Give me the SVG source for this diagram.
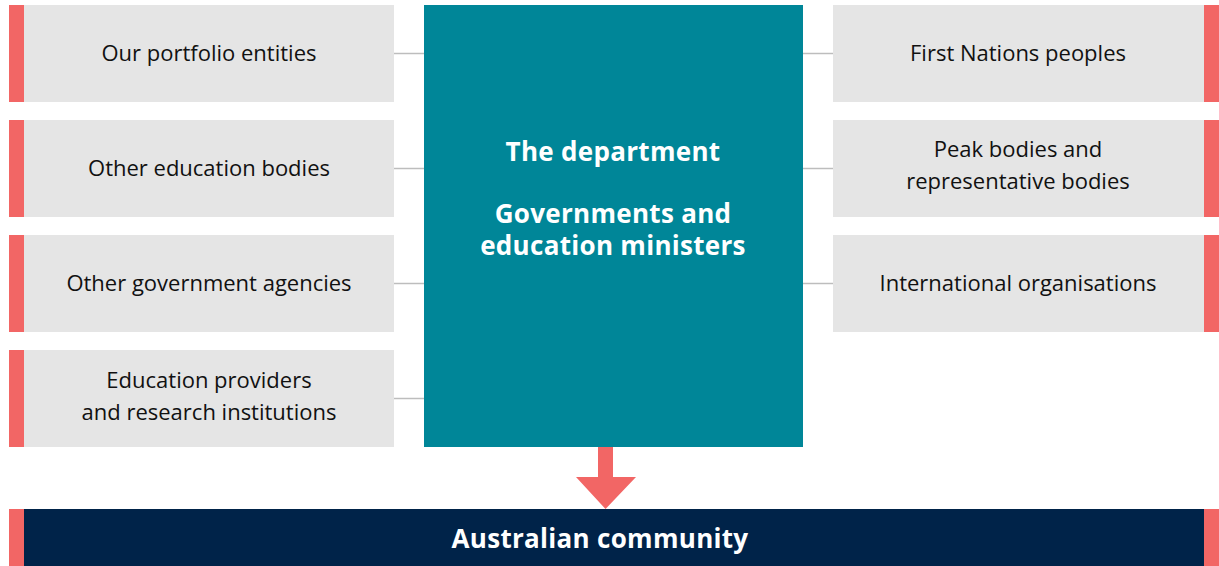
<svg xmlns="http://www.w3.org/2000/svg" width="1219" height="566" viewBox="0 0 1219 566">
<style>
.box{fill:#e5e5e5}
.bar{fill:#f26665}
.lbl{font-family:"Open Sans","Liberation Sans",sans-serif;font-size:22px;fill:#111;text-anchor:middle}
.hd{font-family:"Open Sans","Liberation Sans",sans-serif;font-weight:bold;font-size:26px;fill:#fff;text-anchor:middle;letter-spacing:0.3px}
.con{stroke:#bdbdbd;stroke-width:1.5;fill:none}
</style>
<rect width="1219" height="566" fill="#fff"/>
<g id="connectors">
<line class="con" x1="394" y1="53.5" x2="424" y2="53.5"/>
<line class="con" x1="394" y1="168.5" x2="424" y2="168.5"/>
<line class="con" x1="394" y1="283.5" x2="424" y2="283.5"/>
<line class="con" x1="394" y1="398.5" x2="424" y2="398.5"/>
<line class="con" x1="803" y1="53.5" x2="833" y2="53.5"/>
<line class="con" x1="803" y1="168.5" x2="833" y2="168.5"/>
<line class="con" x1="803" y1="283.5" x2="833" y2="283.5"/>
<polygon fill="#f26665" points="598,447 613,447 613,477 636,477 605.5,509 576,477 598,477"/>
</g>
<g id="portfolio"><rect class="bar" x="9" y="5" width="15" height="97"/><rect class="box" x="24" y="5" width="370" height="97"/><text class="lbl" x="209" y="61">Our portfolio entities</text></g>
<g id="education-bodies"><rect class="bar" x="9" y="120" width="15" height="97"/><rect class="box" x="24" y="120" width="370" height="97"/><text class="lbl" x="209" y="176">Other education bodies</text></g>
<g id="gov-agencies"><rect class="bar" x="9" y="235" width="15" height="97"/><rect class="box" x="24" y="235" width="370" height="97"/><text class="lbl" x="209" y="291">Other government agencies</text></g>
<g id="providers"><rect class="bar" x="9" y="350" width="15" height="97"/><rect class="box" x="24" y="350" width="370" height="97"/><text class="lbl" x="209" y="388">Education providers<tspan x="209" dy="32">and research institutions</tspan></text></g>
<g id="first-nations"><rect class="box" x="833" y="5" width="371" height="97"/><rect class="bar" x="1204" y="5" width="15" height="97"/><text class="lbl" x="1018" y="61">First Nations peoples</text></g>
<g id="peak-bodies"><rect class="box" x="833" y="120" width="371" height="97"/><rect class="bar" x="1204" y="120" width="15" height="97"/><text class="lbl" x="1018" y="157">Peak bodies and<tspan x="1018" dy="32">representative bodies</tspan></text></g>
<g id="international"><rect class="box" x="833" y="235" width="371" height="97"/><rect class="bar" x="1204" y="235" width="15" height="97"/><text class="lbl" x="1018" y="291">International organisations</text></g>
<g id="department"><rect x="424" y="5" width="379" height="442" fill="#008698"/><text class="hd" x="613" y="161">The department</text><text class="hd" x="613" y="223">Governments and<tspan x="613" dy="32">education ministers</tspan></text></g>
<g id="community"><rect class="bar" x="9" y="509" width="15" height="57"/><rect x="24" y="509" width="1180" height="57" fill="#002349"/><rect class="bar" x="1204" y="509" width="15" height="57"/><text class="hd" x="600" y="548">Australian community</text></g>
</svg>
